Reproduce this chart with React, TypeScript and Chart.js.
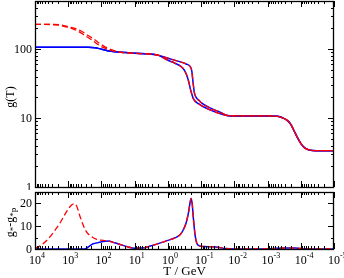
import React, { useEffect, useRef } from "react";
import { Chart, registerables } from "chart.js";

Chart.register(...registerables);

// ---------------- data ----------------
const T_MIN = 1e-5;
const T_MAX = 1e4;
const xTickExponents = [4, 3, 2, 1, 0, -1, -2, -3, -4, -5];
const gTickLabels = [1, 10, 100];
const dTickLabels = [0, 10, 20];
const G_MIN = 1;
const G_MAX = 500;
const D_MIN = 0;
const D_MAX = 25;

// curve A (sharp QCD transition), log10(T/GeV) and g(T)
const logT_A = [4, 3, 2.4, 2.2, 2.0, 1.7, 1.4, 1.0, 0.6, 0.3, 0.0, -0.3, -0.55, -0.67, -0.72, -0.76, -0.8, -0.85, -0.95, -1.0, -1.3, -1.57, -1.77, -2.0, -3.0, -3.3, -3.45, -3.6, -3.7, -3.8, -3.9, -4.0, -4.1, -4.25, -4.5, -5];
const g_A = [106.75, 106.75, 106.5, 105, 100, 93, 90, 87, 85.5, 82, 74, 67, 61, 56, 48, 32, 23, 20, 17.8, 16.8, 13.8, 12.2, 11.0, 10.75, 10.75, 10.6, 10.1, 9.2, 8.1, 6.5, 5.2, 4.3, 3.75, 3.45, 3.37, 3.36];

// curve B (smooth QCD transition)
const logT_B = [4, 3, 2.4, 2.2, 2.0, 1.7, 1.4, 1.0, 0.6, 0.3, 0.0, -0.2, -0.46, -0.55, -0.615, -0.69, -0.765, -0.916, -1.2, -1.57, -1.8, -2.0, -3.0, -3.3, -3.45, -3.6, -3.7, -3.8, -3.9, -4.0, -4.1, -4.25, -4.5, -5];
const g_B = [106.75, 106.75, 106.5, 105, 100, 93, 90, 87, 85.5, 82, 69, 63, 52.5, 44, 35.4, 25, 19.2, 16.2, 13.6, 11.6, 10.85, 10.75, 10.75, 10.6, 10.1, 9.2, 8.1, 6.5, 5.2, 4.3, 3.75, 3.45, 3.37, 3.36];

// red dashed high-temperature parts (extended spectrum)
const logT_RA = [4, 3.5, 3.3, 3.1, 2.9, 2.7, 2.5, 2.3, 2.14, 1.95, 1.74, 1.4, 1.0];
const g_RA = [228.75, 228, 224, 212, 200, 182, 158, 137, 120, 106, 97, 90, 87];
const logT_RB = [4, 3.42, 3.2, 3.0, 2.8, 2.6, 2.4, 2.2, 2.04, 1.86, 1.66, 1.4, 1.0];
const g_RB = [228.75, 228, 224, 212, 200, 182, 158, 137, 120, 106, 97, 90, 87];

// lower panel
const logT_Dred = [4.0, 3.8, 3.55, 3.4, 3.25, 3.05, 2.9, 2.83, 2.75, 2.65, 2.55, 2.45, 2.3, 2.14, 1.95, 1.8, 1.6, 1.4, 1.2, 1.0, 0.8, 0.5, 0.2, 0.0, -0.2, -0.35, -0.45, -0.55, -0.62, -0.67, -0.7, -0.73, -0.77, -0.82, -0.87, -0.95, -1.05, -1.3, -1.45, -1.6, -1.75, -2.0, -3.0, -3.3, -3.6, -3.85, -4.1, -4.4, -5];
const d_red = [0.2, 1.8, 5.3, 8.2, 11.3, 16.4, 19.3, 19.8, 19, 14.5, 10.5, 7.5, 5.4, 4.2, 3.8, 3.5, 2.7, 1.8, 0.9, 0.35, 0.4, 1.4, 2.8, 3.8, 4.8, 6, 8, 11.5, 16, 20.5, 22.2, 20, 13, 6, 2.5, 1.4, 1.1, 1.0, 0.9, 0.5, 0.2, 0.05, 0.05, 0.3, 0.45, 0.4, 0.1, 0, 0];
const logT_Dblue = [4.0, 3.0, 2.5, 2.45, 2.35, 2.25, 2.1, 1.95, 1.8, 1.6, 1.4, 1.2, 1.0, 0.8, 0.5, 0.2, 0.0, -0.2, -0.35, -0.45, -0.55, -0.62, -0.67, -0.7, -0.73, -0.77, -0.82, -0.87, -0.95, -1.05, -1.3, -1.45, -1.6, -1.75, -2.0, -3.0, -3.3, -3.6, -3.85, -4.1, -4.4, -5];
const d_blue = [0, 0, 0, 0.3, 1.4, 2.3, 2.8, 3.3, 3.5, 2.7, 1.8, 0.9, 0.35, 0.4, 1.4, 2.8, 3.8, 4.8, 6, 8, 11.5, 16, 20.5, 22.2, 20, 13, 6, 2.5, 1.4, 1.1, 1.0, 0.9, 0.5, 0.2, 0.05, 0.05, 0.3, 0.45, 0.4, 0.1, 0, 0];

// ---------------- helpers ----------------
const pts = (lt: number[], v: number[]) => lt.map((l, i) => ({ x: Math.pow(10, l), y: v[i] }));
const redTail = (lt: number[], v: number[], base: number[], baseV: number[]) => {
  const last = lt[lt.length - 1];
  const out = pts(lt, v);
  base.forEach((l, i) => {
    if (l < last) out.push({ x: Math.pow(10, l), y: baseV[i] });
  });
  return out;
};

const SERIF = '"Liberation Serif", "Times New Roman", serif';
const RED = "#ff0000";
const BLUE = "#0000ff";

const lineDs = (data: any[], color: string, dashed: boolean) => ({
  data,
  borderColor: color,
  borderWidth: dashed ? 1.3 : 1.5,
  borderDash: dashed ? [6, 3] : [],
  pointRadius: 0,
  fill: false,
  cubicInterpolationMode: "monotone" as const,
});

function drawXTicks(ctx: CanvasRenderingContext2D, chart: any) {
  const xs = chart.scales.x;
  const { top, bottom } = chart.chartArea;
  ctx.beginPath();
  for (let k = -5; k <= 4; k++) {
    for (let m = 1; m <= 9; m++) {
      const v = m * Math.pow(10, k);
      if (v > T_MAX * 1.0001) break;
      const px = Math.round(xs.getPixelForValue(v)) + 0.5;
      const len = m === 1 ? 6 : 3;
      ctx.moveTo(px, bottom);
      ctx.lineTo(px, bottom - len);
      ctx.moveTo(px, top);
      ctx.lineTo(px, top + len);
    }
  }
  ctx.stroke();
}

function drawYTicks(ctx: CanvasRenderingContext2D, chart: any, values: { v: number; major: boolean }[]) {
  const ys = chart.scales.y;
  const { left, right } = chart.chartArea;
  ctx.beginPath();
  values.forEach(({ v, major }) => {
    const py = Math.round(ys.getPixelForValue(v)) + 0.5;
    const len = major ? 6 : 3;
    ctx.moveTo(left, py);
    ctx.lineTo(left + len, py);
    ctx.moveTo(right, py);
    ctx.lineTo(right - len, py);
  });
  ctx.stroke();
}

function drawFrame(ctx: CanvasRenderingContext2D, chart: any) {
  const { left, right, top, bottom } = chart.chartArea;
  ctx.strokeRect(left + 0.5, top + 0.5, right - left - 1, bottom - top);
}

function drawYLabels(ctx: CanvasRenderingContext2D, chart: any, labels: number[]) {
  const ys = chart.scales.y;
  const { left } = chart.chartArea;
  ctx.fillStyle = "#000";
  ctx.font = `12px ${SERIF}`;
  ctx.textAlign = "right";
  ctx.textBaseline = "middle";
  labels.forEach((v) => {
    ctx.fillText(String(v), left - 3, ys.getPixelForValue(v) + 0.5);
  });
}

const topPlugin = {
  id: "topFrame",
  afterDraw(chart: any) {
    const ctx = chart.ctx as CanvasRenderingContext2D;
    ctx.save();
    ctx.strokeStyle = "#000";
    ctx.lineWidth = 1;
    drawXTicks(ctx, chart);
    const yt: { v: number; major: boolean }[] = [];
    for (let k = 0; k <= 2; k++) {
      for (let m = 1; m <= 9; m++) {
        const v = m * Math.pow(10, k);
        if (v > G_MAX * 1.0001) break;
        yt.push({ v, major: m === 1 });
      }
    }
    drawYTicks(ctx, chart, yt);
    ctx.lineWidth = 1.3;
    drawFrame(ctx, chart);
    drawYLabels(ctx, chart, gTickLabels);
    // axis title
    const { top, bottom } = chart.chartArea;
    ctx.translate(11, (top + bottom) / 2 + 3);
    ctx.rotate(-Math.PI / 2);
    ctx.font = `12px ${SERIF}`;
    ctx.textAlign = "center";
    ctx.textBaseline = "middle";
    ctx.fillText("g(T)", 0, 0);
    ctx.restore();
  },
};

const bottomPlugin = {
  id: "bottomFrame",
  afterDraw(chart: any) {
    const ctx = chart.ctx as CanvasRenderingContext2D;
    const { left, right, top, bottom } = chart.chartArea;
    ctx.save();
    ctx.strokeStyle = "#000";
    ctx.lineWidth = 1;
    drawXTicks(ctx, chart);
    const yt: { v: number; major: boolean }[] = [];
    for (let v = 0; v < D_MAX; v += 5) yt.push({ v, major: v % 10 === 0 });
    drawYTicks(ctx, chart, yt);
    ctx.lineWidth = 1.3;
    drawFrame(ctx, chart);
    drawYLabels(ctx, chart, dTickLabels);
    // x tick labels 10^k
    const xs = chart.scales.x;
    ctx.fillStyle = "#000";
    ctx.textBaseline = "alphabetic";
    xTickExponents.forEach((k) => {
      const px = xs.getPixelForValue(Math.pow(10, k));
      ctx.font = `12px ${SERIF}`;
      ctx.textAlign = "center";
      const w = ctx.measureText("10").width;
      ctx.fillText("10", px, bottom + 15);
      ctx.font = `8px ${SERIF}`;
      ctx.textAlign = "left";
      ctx.fillText(String(k), px + w / 2, bottom + 9);
    });
    // x axis title
    ctx.font = `13px ${SERIF}`;
    ctx.textAlign = "center";
    ctx.fillText("T / GeV", (left + right) / 2, bottom + 26);
    // y axis title  g_* - g_*p
    ctx.translate(11, (top + bottom) / 2 + 2);
    ctx.rotate(-Math.PI / 2);
    const parts: { t: string; size: number; dy: number }[] = [
      { t: "g", size: 12, dy: 0 },
      { t: "*", size: 9, dy: 3 },
      { t: "-", size: 12, dy: 0 },
      { t: "g", size: 12, dy: 0 },
      { t: "*p", size: 9, dy: 3 },
    ];
    let total = 0;
    parts.forEach((p) => {
      ctx.font = `${p.size}px ${SERIF}`;
      total += ctx.measureText(p.t).width;
    });
    let cx = -total / 2;
    ctx.textAlign = "left";
    ctx.textBaseline = "middle";
    parts.forEach((p) => {
      ctx.font = `${p.size}px ${SERIF}`;
      ctx.fillText(p.t, cx, p.dy);
      cx += ctx.measureText(p.t).width;
    });
    ctx.restore();
  },
};

function TopChart() {
  const ref = useRef<HTMLCanvasElement | null>(null);
  useEffect(() => {
    if (!ref.current) return;
    const chart = new Chart(ref.current, {
      type: "line",
      data: {
        datasets: [
          lineDs(redTail(logT_RA, g_RA, logT_A, g_A), RED, true),
          lineDs(redTail(logT_RB, g_RB, logT_B, g_B), RED, true),
          lineDs(pts(logT_A, g_A), BLUE, false),
          lineDs(pts(logT_B, g_B), BLUE, false),
        ],
      },
      options: {
        animation: false,
        responsive: false,
        maintainAspectRatio: false,
        parsing: false as any,
        layout: { padding: { left: 35, right: 10, top: 1, bottom: 3 } },
        plugins: { legend: { display: false }, tooltip: { enabled: false } },
        scales: {
          x: { type: "logarithmic", min: T_MIN, max: T_MAX, reverse: true, display: false },
          y: { type: "logarithmic", min: G_MIN, max: G_MAX, display: false },
        },
      },
      plugins: [topPlugin],
    });
    return () => chart.destroy();
  }, []);
  return <canvas ref={ref} width={344} height={190} style={{ position: "absolute", left: 0, top: 0, width: 344, height: 190 }} />;
}

function BottomChart() {
  const ref = useRef<HTMLCanvasElement | null>(null);
  useEffect(() => {
    if (!ref.current) return;
    const chart = new Chart(ref.current, {
      type: "line",
      data: {
        datasets: [
          lineDs(pts(logT_Dred, d_red), RED, true),
          lineDs(pts(logT_Dblue, d_blue), BLUE, false),
        ],
      },
      options: {
        animation: false,
        responsive: false,
        maintainAspectRatio: false,
        parsing: false as any,
        layout: { padding: { left: 35, right: 10, top: 2, bottom: 29 } },
        plugins: { legend: { display: false }, tooltip: { enabled: false } },
        scales: {
          x: { type: "logarithmic", min: T_MIN, max: T_MAX, reverse: true, display: false },
          y: { type: "linear", min: D_MIN, max: D_MAX, display: false },
        },
      },
      plugins: [bottomPlugin],
    });
    return () => chart.destroy();
  }, []);
  return <canvas ref={ref} width={344} height={88} style={{ position: "absolute", left: 0, top: 190, width: 344, height: 88 }} />;
}

export default function App() {
  return (
    <div style={{ position: "fixed", left: 0, top: 0, width: 344, height: 278, background: "#fff", overflow: "hidden" }}>
      <TopChart />
      <BottomChart />
    </div>
  );
}
